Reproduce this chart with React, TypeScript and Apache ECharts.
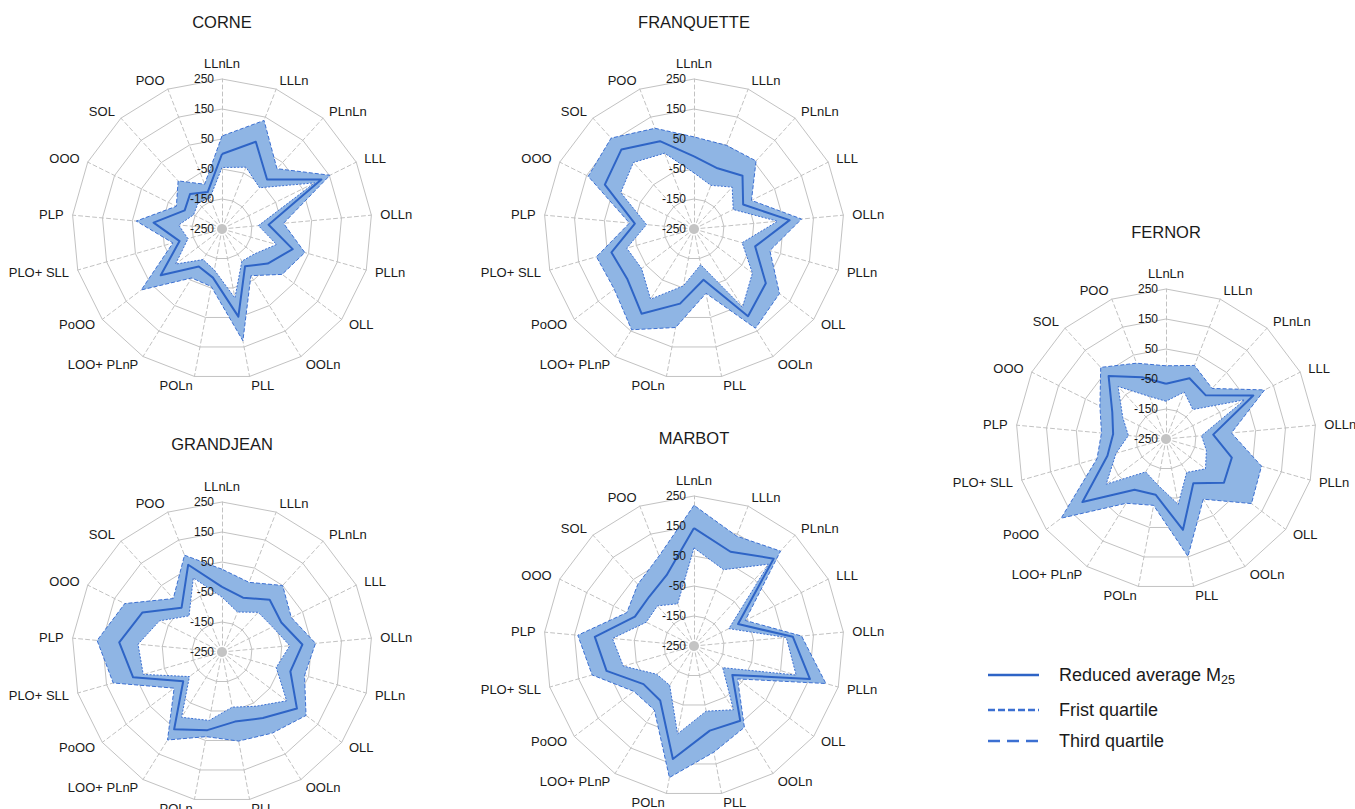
import React, { useEffect, useRef } from 'react';
import * as echarts from 'echarts';

// ---------- data ----------
const indicators = [
  'LLnLn', 'LLLn', 'PLnLn', 'LLL', 'OLLn', 'PLLn', 'OLL', 'OOLn', 'PLL',
  'POLn', 'LOO+ PLnP', 'PoOO', 'PLO+ SLL', 'PLP', 'OOO', 'SOL', 'POO',
];
const axisMin = -250;
const axisMax = 250;
const axisSplits = 5;

const chartTitles = ['CORNE', 'FRANQUETTE', 'GRANDJEAN', 'MARBOT', 'FERNOR'];

const corneQ3 = [60, 138, 22, 152, -44, 37, 1, -67, 129, -55, -58, 87, -80, 37, -80, -33, -90];
const corneMean = [0, 62, -27, 120, -94, -5, -59, -104, 47, -85, -103, 6, -103, -21, -111, -92, -118];
const corneQ1 = [-45, -29, -64, 95, -128, -61, -113, -124, -16, -111, -130, -56, -132, -105, -144, -132, -139];

const franqQ3 = [57, 49, 57, -36, 110, 13, 107, 139, -32, 84, 145, 83, 88, -34, 144, 160, 110];
const franqMean = [-8, -33, -10, -67, 70, -38, 50, 92, -78, 3, 82, 28, 36, -52, 82, 109, 64];
const franqQ1 = [-63, -94, -61, -104, 30, -83, -6, 57, -129, -57, 25, -31, -17, -91, 23, 50, 21];

const grandQ3 = [26, -1, 50, 8, 63, 36, 101, 68, 52, 37, 95, -50, 127, 168, 112, -9, 96];
const grandMean = [-33, -56, -14, -29, 19, -13, 63, 9, -14, 15, 53, -88, 58, 94, 46, -50, 62];
const grandQ1 = [-67, -107, -71, -62, -23, -62, 20, -37, -63, -18, 6, -114, 23, 31, -17, -87, 15];

const marbotQ3 = [219, 143, 178, -59, 110, 207, -68, 69, 110, 196, 1, 1, 103, 139, 0, 28, 72];
const marbotMean = [143, 87, 144, -86, 81, 152, -90, 43, 37, 133, -36, -39, 53, 82, -30, -28, 3];
const marbotQ1 = [77, 23, 119, -120, 59, 104, -130, 0, -29, 48, -96, -94, -5, 23, -72, -69, -99];

const fernorQ3 = [-6, 13, -22, 117, -31, 81, 107, -14, 148, -25, 2, 188, -11, -34, -4, 73, 21];
const fernorMean = [-66, -33, -53, 75, -92, -22, -8, -77, 58, -61, -51, 99, -47, -73, -50, 34, -29];
const fernorQ1 = [-124, -82, -117, 43, -131, -110, -85, -119, -28, -95, -121, 0, -77, -124, -89, -13, -98];

const legendLabels = ['Reduced average M{sub|25}', 'Frist quartile', 'Third quartile'];

// ---------- layout & style ----------
const FONT = '"Liberation Sans", Arial, sans-serif';
const R = 150;
const BAND = '#8fb5e4';
const MEAN_C = '#2e64c6';
const DASH_C = '#3c70d2';
const GRID_C = '#c2c2c2';
const TEXT_C = '#1a1a1a';

const layouts = [
  { cx: 222, cy: 229, ty: 22 },
  { cx: 694, cy: 229, ty: 22 },
  { cx: 222, cy: 652, ty: 444 },
  { cx: 694, cy: 646, ty: 438 },
  { cx: 1166, cy: 439, ty: 232 },
];

const chartSeries = [
  { q3: corneQ3, mean: corneMean, q1: corneQ1 },
  { q3: franqQ3, mean: franqMean, q1: franqQ1 },
  { q3: grandQ3, mean: grandMean, q1: grandQ1 },
  { q3: marbotQ3, mean: marbotMean, q1: marbotQ1 },
  { q3: fernorQ3, mean: fernorMean, q1: fernorQ1 },
];

// radar places indicators counter-clockwise; reverse to get clockwise order
function toRadar<T>(arr: T[]): T[] {
  return [arr[0], ...arr.slice(1).reverse()];
}

function buildOption() {
  const radar: any[] = [];
  const polar: any[] = [];
  const angleAxis: any[] = [];
  const radiusAxis: any[] = [];
  const series: any[] = [];
  const graphic: any[] = [];

  chartSeries.forEach((c, k) => {
    const L = layouts[k];
    const ind = toRadar(indicators).map((n) => ({ name: n, min: axisMin, max: axisMax }));
    radar.push({
      center: [L.cx, L.cy],
      radius: R,
      startAngle: 90,
      shape: 'polygon',
      splitNumber: axisSplits,
      z: 0,
      indicator: ind,
      axisName: { color: TEXT_C, fontSize: 13, fontFamily: FONT },
      axisNameGap: 9,
      splitLine: { lineStyle: { color: GRID_C, width: 1 } },
      splitArea: { show: false },
      axisLine: { lineStyle: { color: GRID_C, width: 1, type: [4, 3] } },
      axisTick: { show: false },
      axisLabel: { show: false },
    });
    radar.push({
      center: [L.cx, L.cy],
      radius: R,
      startAngle: 90,
      shape: 'polygon',
      splitNumber: axisSplits,
      z: 6,
      indicator: ind.map((d, j) => (j === 0 ? { ...d, axisLabel: { show: true } } : { ...d })),
      axisName: { show: false },
      splitLine: { show: false },
      splitArea: { show: false },
      axisLine: { show: false },
      axisTick: { show: false },
      axisLabel: { show: false, color: TEXT_C, fontSize: 12, fontFamily: FONT, margin: 8 },
    });

    polar.push({ center: [L.cx, L.cy], radius: [0, R] });
    angleAxis.push({
      polarIndex: k, type: 'value', min: 0, max: indicators.length,
      startAngle: 90, clockwise: true, show: false,
    });
    radiusAxis.push({ polarIndex: k, type: 'value', min: axisMin, max: axisMax, show: false });

    series.push({
      type: 'custom',
      coordinateSystem: 'polar',
      polarIndex: k,
      z: 2,
      silent: true,
      data: indicators.map((_, i) => [c.q3[i], i]),
      renderItem: (params: any, api: any) => {
        if (params.dataIndex !== 0) return null;
        const outer = c.q3.map((v, i) => api.coord([v, i]));
        const inner = c.q1.map((v, i) => api.coord([v, i])).reverse();
        const pts = (a: number[][]) => a.map((p) => p[0].toFixed(2) + ' ' + p[1].toFixed(2)).join(' L');
        const d = 'M' + pts(outer) + ' Z M' + pts(inner) + ' Z';
        return { type: 'path', shape: { pathData: d }, style: { fill: BAND, stroke: null } };
      },
    });

    series.push({
      type: 'radar',
      radarIndex: 2 * k,
      z: 3,
      symbol: 'none',
      silent: true,
      data: [
        { name: 'Third quartile', value: toRadar(c.q3), lineStyle: { color: DASH_C, width: 1, type: [4, 2] } },
        { name: 'Frist quartile', value: toRadar(c.q1), lineStyle: { color: DASH_C, width: 1, type: [2, 1.5] } },
        { name: 'Reduced average M25', value: toRadar(c.mean), lineStyle: { color: MEAN_C, width: 2 } },
      ],
    });

    graphic.push({
      type: 'circle', z: 1, silent: true,
      shape: { cx: L.cx, cy: L.cy, r: 5 },
      style: { fill: '#c4c4c4' },
    });
    graphic.push({
      type: 'text', z: 10, x: L.cx, y: L.ty, silent: true,
      style: {
        text: chartTitles[k], align: 'center', verticalAlign: 'middle',
        fontSize: 16.5, fontFamily: FONT, fill: TEXT_C,
      },
    });
  });

  const legendRows = [
    { y: 675, dash: null as any, w: 2.5 },
    { y: 710, dash: [7, 3], w: 2.5 },
    { y: 741, dash: [12, 7], w: 2.5 },
  ];
  legendRows.forEach((row, i) => {
    graphic.push({
      type: 'line', z: 10, silent: true,
      shape: { x1: 988, y1: row.y, x2: 1039, y2: row.y },
      style: { stroke: i === 0 ? MEAN_C : DASH_C, lineWidth: row.w, lineDash: row.dash || undefined },
    });
    graphic.push({
      type: 'text', z: 10, x: 1059, y: row.y, silent: true,
      style: {
        text: legendLabels[i], verticalAlign: 'middle', align: 'left',
        fontSize: 18, fontFamily: FONT, fill: TEXT_C, lineHeight: 22,
        rich: {
          sub: { fontSize: 12.5, fontFamily: FONT, fill: TEXT_C, verticalAlign: 'bottom', lineHeight: 12 },
        },
      },
    });
  });

  return {
    animation: false,
    backgroundColor: '#ffffff',
    radar, polar, angleAxis, radiusAxis, series, graphic,
  };
}

export default function App() {
  const ref = useRef<HTMLDivElement>(null);
  useEffect(() => {
    if (!ref.current) return;
    const chart = echarts.init(ref.current, undefined, { renderer: 'svg' });
    chart.setOption(buildOption() as any);
    return () => chart.dispose();
  }, []);
  return (
    <div
      ref={ref}
      style={{ position: 'absolute', left: 0, top: 0, width: 1355, height: 809 }}
    />
  );
}
